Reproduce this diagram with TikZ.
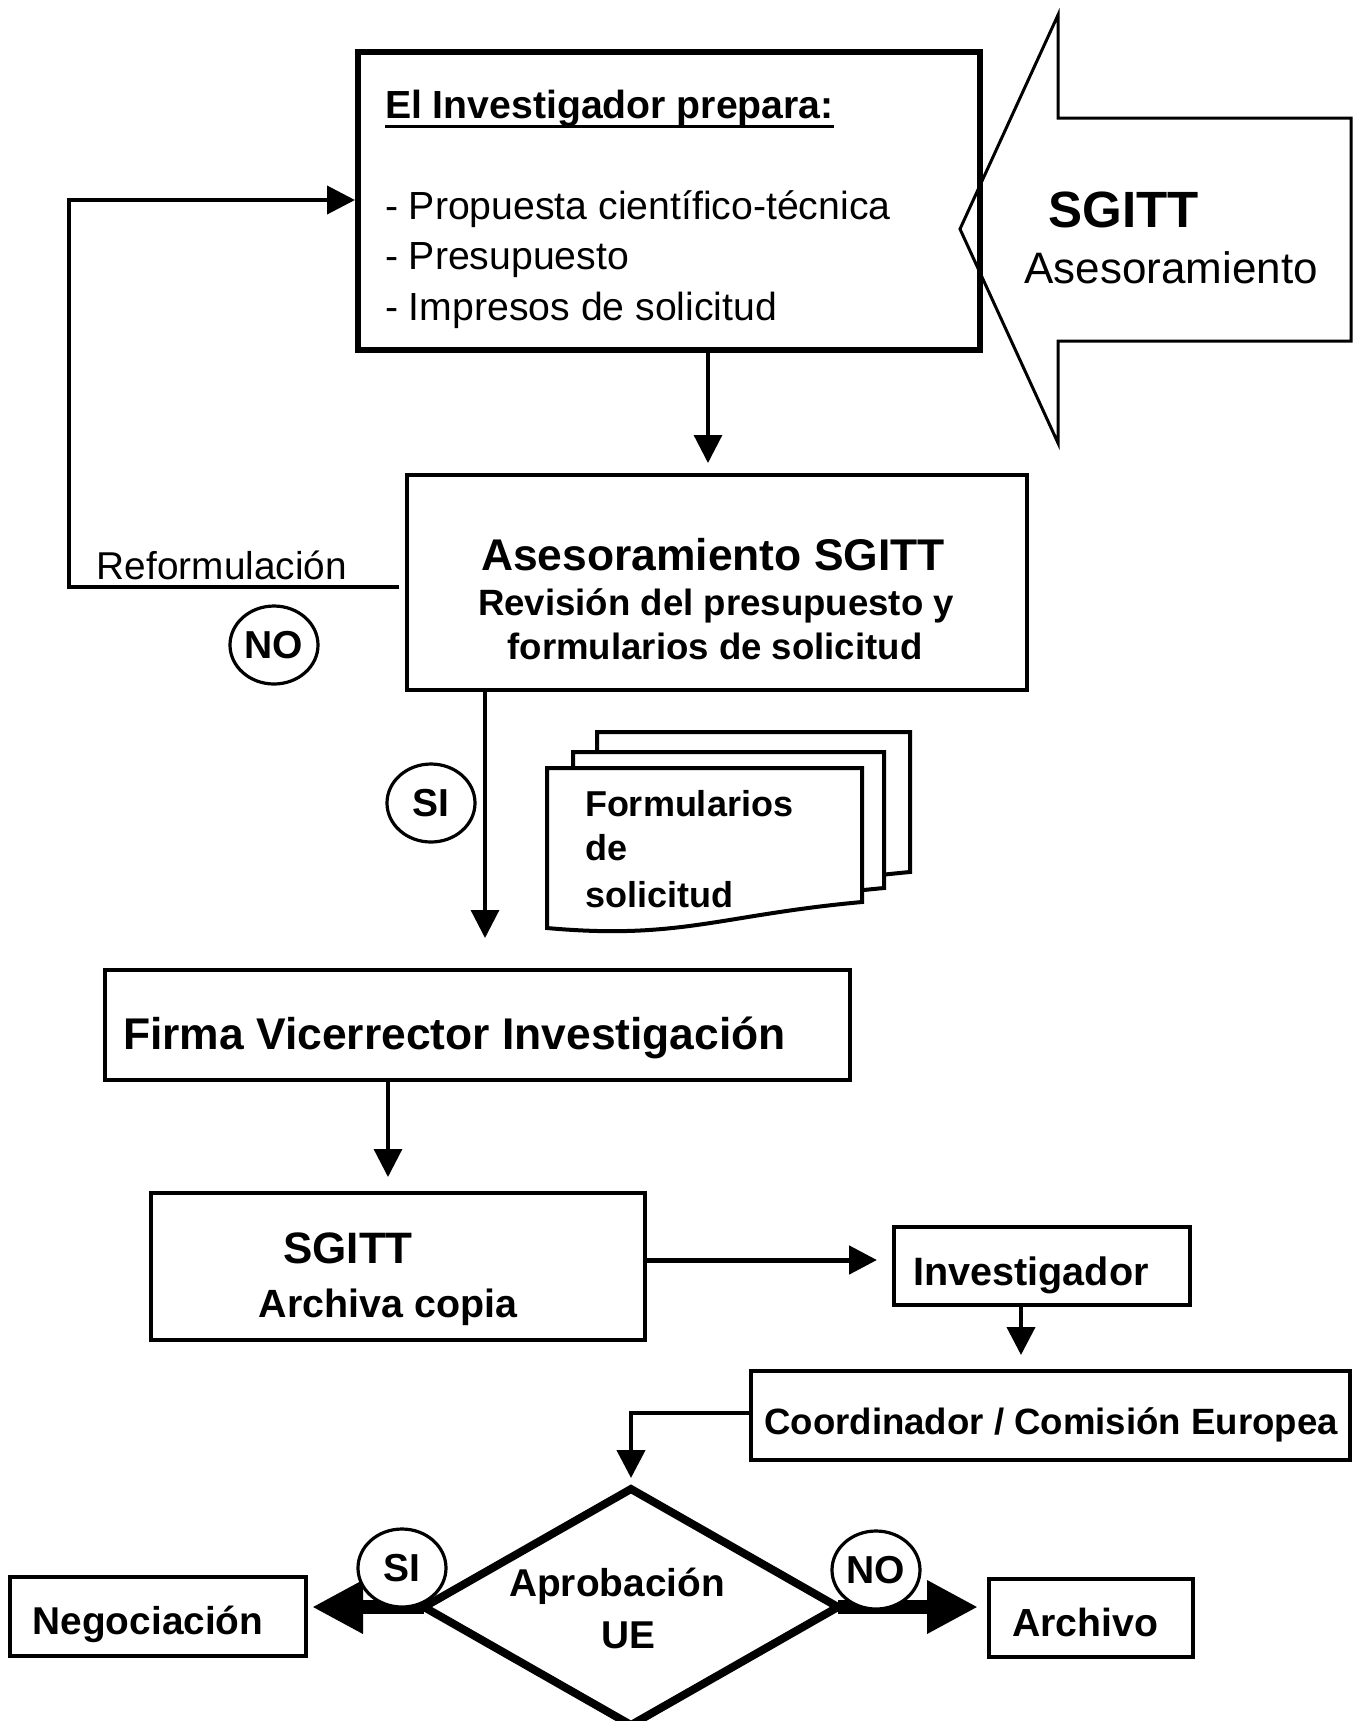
\documentclass[tikz,border=0pt]{standalone}
\usepackage{fontspec}
\setmainfont{Liberation Sans}
\usetikzlibrary{arrows.meta,shapes.geometric}
\newcommand\fz[1]{\fontsize{#1}{#1}\selectfont}
% one sheet of a document stack: left, top, right, bottom-right y
\newcommand\docsheet[4]{\draw[sheet] (#1,#2) -- (#3,#2) -- (#3,#4)
  .. controls +(-142,13) and +(133,12) .. (#1,{#4+26}) -- cycle;}
\tikzset{
  box/.style={draw, line width=2.25pt, inner sep=0pt, outer sep=0pt},
  lbl/.style={inner sep=0pt, outer sep=0pt},
  flow/.style={line width=1.6pt, line join=miter, -{Triangle[length=14pt,width=14pt]}},
  bigflow/.style={line width=7pt, -{Triangle[length=25.5pt,width=25pt]}},
  badge/.style={ellipse, draw, fill=white, line width=1.6pt, minimum width=44pt,
    minimum height=39pt, inner sep=0pt, font=\bfseries\fz{19.5}},
  sheet/.style={draw, fill=white, line width=2pt, line join=miter},
}
\begin{document}
\begin{tikzpicture}[x=0.5pt,y=-0.5pt]
\useasboundingbox (0,0) rectangle (1354,1721);

% ---- boxes ----
\node[box, line width=2.75pt, minimum width=311pt, minimum height=149pt] (prep) at (669,201) {};
\node[box, minimum width=310pt, minimum height=107.5pt] (rev) at (717,582.5) {};
\node[box, minimum width=372.5pt, minimum height=55pt] (firma) at (477.5,1025) {};
\node[box, minimum width=247pt, minimum height=73.5pt] (copia) at (398,1266.5) {};
\node[box, minimum width=148pt, minimum height=39pt] (inv) at (1042,1266) {};
\node[box, minimum width=299.5pt, minimum height=44.5pt] (coord) at (1050.5,1415.5) {};
\node[box, minimum width=148pt, minimum height=39.5pt] (neg) at (158,1616.5) {};
\node[box, minimum width=102pt, minimum height=39pt] (archivo) at (1091,1618) {};
\node[diamond, draw, line width=4pt, inner sep=0pt, outer sep=0pt,
      minimum width=207pt, minimum height=118pt] (apr) at (631,1607) {};

% ---- large advisory arrow ----
\draw[line width=1.5pt, line join=miter] (960,229) -- (1058,15) -- (1058,118) -- (1351,118)
  -- (1351,341) -- (1058,341) -- (1058,443) -- cycle;
\node[lbl, anchor=base, font=\bfseries\fz{25.5}] (sgitt) at (1124,227) {SGITT};
\node[lbl, anchor=base, font=\fz{22}] (ases) at (1171,283) {Asesoramiento};

% ---- texts of the first box ----
\node[lbl, anchor=base west, font=\bfseries\fz{19.6}] (ttl) at (385,118) {El Investigador prepara:};
\draw[line width=1.5pt] ([yshift=-4pt]ttl.base west) -- ([yshift=-4pt]ttl.base east);
\node[lbl, anchor=base west, font=\fz{19.6}] (it1) at (385,219) {- Propuesta científico-técnica};
\node[lbl, anchor=base west, font=\fz{19.6}] (it2) at (385,269) {- Presupuesto};
\node[lbl, anchor=base west, font=\fz{19.6}] (it3) at (385,320) {- Impresos de solicitud};

% ---- review box ----
\node[lbl, anchor=base, font=\bfseries\fz{22.2}] (rv1) at (713,570) {Asesoramiento SGITT};
\node[lbl, anchor=base, font=\bfseries\fz{18.3}] (rv2) at (716,615) {Revisión del presupuesto y};
\node[lbl, anchor=base, font=\bfseries\fz{18.3}] (rv3) at (715,659) {formularios de solicitud};

% ---- other box texts ----
\node[lbl, anchor=base west, font=\bfseries\fz{22.2}] (fv) at (123,1049) {Firma Vicerrector Investigación};
\node[lbl, anchor=base, font=\bfseries\fz{22}] (cp1) at (348,1263) {SGITT};
\node[lbl, anchor=base, font=\bfseries\fz{19.7}] (cp2) at (388,1317) {Archiva copia};
\node[lbl, anchor=base, font=\bfseries\fz{19.8}] (invt) at (1031,1285) {Investigador};
\node[lbl, anchor=base, font=\bfseries\fz{18.3}] (coordt) at (1051,1434) {Coordinador / Comisión Europea};
\node[lbl, anchor=base, font=\bfseries\fz{19.4}] (apr1) at (617,1596) {Aprobación};
\node[lbl, anchor=base, font=\bfseries\fz{19.4}] (apr2) at (628,1648) {UE};
\node[lbl, anchor=base, font=\bfseries\fz{19.4}] (negt) at (148,1634) {Negociación};
\node[lbl, anchor=base, font=\bfseries\fz{19.6}] (archt) at (1085,1636) {Archivo};

% ---- document stack ----
\docsheet{597}{732}{910}{872}
\docsheet{573}{752}{884}{888}
\docsheet{547}{768}{862}{902}
\node[lbl, anchor=base west, font=\bfseries\fz{18}] (f1) at (585,816) {Formularios};
\node[lbl, anchor=base west, font=\bfseries\fz{18}] (f2) at (585,860) {de};
\node[lbl, anchor=base west, font=\bfseries\fz{18}] (f3) at (585,907) {solicitud};

% ---- connectors ----
\draw[flow, shorten >=6pt] (708,0 |- prep.south) -- (708,0 |- rev.north);
\draw[flow, line width=2pt, shorten <=4pt, shorten >=1.5pt]
  (rev.west |- 0,587) -- (69,587) -- (69,200) -- (prep.west |- 0,200);
\node[lbl, anchor=base, font=\fz{19.4}] (reform) at (222,579) {Reformulación};
\draw[flow, shorten >=16pt] (485,0 |- rev.south) -- (485,0 |- firma.north);
\draw[flow, shorten >=8pt] (388,0 |- firma.south) -- (388,0 |- copia.north);
\draw[flow, line width=2.5pt, shorten >=8.5pt] (copia.east |- 0,1260) -- (inv.west |- 0,1260);
\draw[flow, line width=2pt, shorten >=8pt] (1021,0 |- inv.south) -- (1021,0 |- coord.north);
\draw[flow, line width=2.2pt, shorten >=5.5pt] (coord.west |- 0,1413) -| (apr.north);
\draw[bigflow, shorten >=3pt] (apr.west) -- (neg.east |- apr.west);
\draw[bigflow, shorten >=5.5pt] (apr.east) -- (archivo.west |- apr.east);

% ---- answer badges ----
\node[badge] (no1) at (274,645) {NO};
\node[badge] (si1) at (431,803) {SI};
\node[badge] (si2) at (402,1568) {SI};
\node[badge] (no2) at (876,1570) {NO};
\end{tikzpicture}
\end{document}
